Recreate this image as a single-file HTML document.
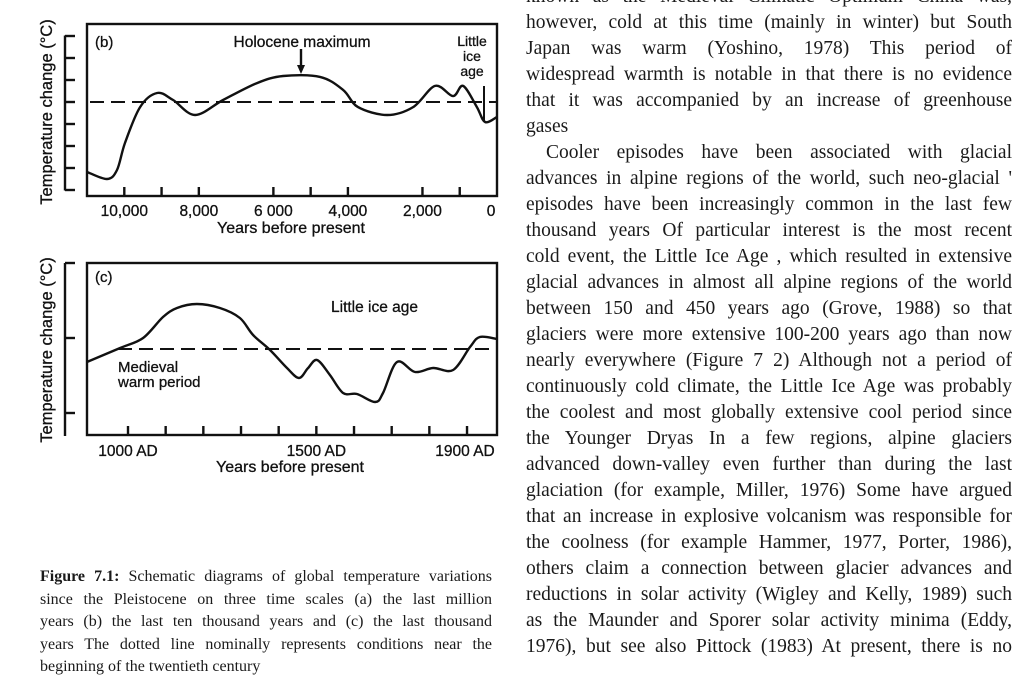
<!DOCTYPE html>
<html><head><meta charset="utf-8"><style>
html,body{margin:0;padding:0;background:#fff;width:1024px;height:699px;overflow:hidden}
#col{position:absolute;left:526px;top:-16px;width:486px;font-family:"Liberation Serif",serif;font-size:19.5px;color:#1a1a1a}
#col div{height:26px;line-height:26px;text-align:justify;text-align-last:justify;white-space:nowrap}
#col div.last{text-align-last:left}
#col div.ind{padding-left:20px}
#cap{position:absolute;left:40px;top:566px;width:452px;font-family:"Liberation Serif",serif;font-size:16px;color:#1a1a1a}
#cap div{height:22.5px;line-height:22.5px;text-align:justify;text-align-last:justify;white-space:nowrap}
#cap div.last{text-align-last:left}
svg{position:absolute;left:0;top:0}
</style></head><body>
<svg id="chart" width="520" height="490" font-family="Liberation Sans, sans-serif" fill="#111"></svg>
<div id="col">
<div>known as the Medieval Climatic Optimum  China was,</div>
<div>however, cold at this time (mainly in winter) but South</div>
<div>Japan was warm (Yoshino, 1978)  This period of</div>
<div>widespread warmth is notable in that there is no evidence</div>
<div>that it was accompanied by an increase of greenhouse</div>
<div class="last">gases</div>
<div class="ind">Cooler episodes have been associated with glacial</div>
<div>advances in alpine regions of the world, such  neo-glacial '</div>
<div>episodes have been increasingly common in the last few</div>
<div>thousand years  Of particular interest is the most recent</div>
<div>cold event, the  Little Ice Age , which resulted in extensive</div>
<div>glacial advances in almost all alpine regions of the world</div>
<div>between 150 and 450 years ago (Grove, 1988) so that</div>
<div>glaciers were more extensive 100-200 years ago than now</div>
<div>nearly everywhere (Figure 7 2)   Although not a period of</div>
<div>continuously cold climate, the Little Ice Age was probably</div>
<div>the coolest and most globally extensive cool period since</div>
<div>the Younger Dryas  In a few regions, alpine glaciers</div>
<div>advanced down-valley even further than during the last</div>
<div>glaciation (for example, Miller, 1976)   Some have argued</div>
<div>that an increase in explosive volcanism was responsible for</div>
<div>the coolness (for example Hammer, 1977, Porter, 1986),</div>
<div>others claim a connection between glacier advances and</div>
<div>reductions in solar activity (Wigley and Kelly, 1989) such</div>
<div>as the Maunder and Sporer solar activity minima (Eddy,</div>
<div>1976), but see also Pittock (1983)   At present, there is no</div>
</div>
<div id="cap">
<div><b>Figure 7.1:</b> Schematic diagrams of global temperature variations</div>
<div>since the Pleistocene on three time scales   (a)  the last million</div>
<div>years   (b)  the last ten thousand years  and  (c)  the last thousand</div>
<div>years   The dotted line nominally represents conditions near the</div>
<div class="last">beginning of the twentieth century</div>
</div>
<script>
// Panel (b): years before present vs temperature (tick units relative to dashed line)
const bYears=[11000,10465,10196,9980,9577,9121,8691,8100,7350,6440,5740,4750,4130,3730,2950,2250,1660,1180,910,540,320,0];
const bTemps=[-3.18,-3.5,-3.09,-1.86,-0.23,0.41,0.09,-0.59,0.09,0.86,1.18,1.14,0.55,-0.23,-0.59,-0.23,0.73,0.27,0.73,-0.23,-0.91,-0.68];
const bTickYears=[10000,9000,8000,6000,5000,4000,2000,1000];
const bLabelYears=[10000,8000,6000,4000,2000,0];
const bLabels=["10,000","8,000","6 000","4,000","2,000","0"];
const bYTicks=[3,2,1,0,-1,-2,-3,-4];
// Panel (c): calendar year AD vs temperature
const cYears=[891,979,1040,1093,1130,1183,1244,1297,1332,1377,1422,1454,1478,1502,1536,1571,1608,1656,1677,1714,1762,1810,1863,1908,1934,1980];
const cTemps=[-0.52,0.04,0.44,1.28,1.64,1.8,1.64,1.24,0.56,-0.04,-0.76,-1.16,-0.76,-0.44,-1.04,-1.76,-1.8,-2.12,-1.76,-0.52,-0.92,-0.76,-0.84,0.08,0.48,0.4];
const cTickYears=[1000,1100,1200,1300,1400,1500,1600,1700,1800,1900];
const cLabelYears=[1000,1500,1900];
const cLabels=["1000 AD","1500 AD","1900 AD"];
const cYTicks=[3.44,0.44,-2.56];

const xB=y=>497-y*0.03727, yB=v=>102-v*22;
const xC=y=>128+(y-1000)*0.3767, yC=v=>349-v*25;
const svg=document.getElementById('chart');
const NS='http://www.w3.org/2000/svg';
function mk(tag,attrs,name,text){const e=document.createElementNS(NS,tag);for(const k in attrs)e.setAttribute(k,attrs[k]);


if(text!==undefined)e.textContent=text;svg.appendChild(e);return e;}
function smooth(pts){let d=`M${pts[0][0]},${pts[0][1]}`;for(let i=0;i<pts.length-1;i++){const p0=pts[i-1]||pts[i],p1=pts[i],p2=pts[i+1],p3=pts[i+2]||p2;
const c1=[p1[0]+(p2[0]-p0[0])/6,p1[1]+(p2[1]-p0[1])/6],c2=[p2[0]-(p3[0]-p1[0])/6,p2[1]-(p3[1]-p1[1])/6];
d+=` C${c1[0].toFixed(1)},${c1[1].toFixed(1)} ${c2[0].toFixed(1)},${c2[1].toFixed(1)} ${p2[0].toFixed(1)},${p2[1].toFixed(1)}`;}return d;}
const ln={stroke:'#111','stroke-width':2.4,fill:'none'};
const tx={'stroke':'#111','stroke-width':0.3};

// ---- Panel b ----
mk('rect',{x:87,y:24,width:410,height:172,...ln},'panel-b-frame');
mk('line',{x1:65,y1:yB(3)-0.5,x2:65,y2:yB(-4)+0.5,...ln},'panel-b-y-axis');
bYTicks.forEach(v=>mk('line',{x1:65,y1:yB(v),x2:75,y2:yB(v),...ln},'panel-b-y-tick'));
bTickYears.forEach(y=>mk('line',{x1:xB(y),y1:196,x2:xB(y),y2:187,...ln},'panel-b-x-tick'));
bLabelYears.forEach((y,i)=>mk('text',{x:i==bLabelYears.length-1?xB(y)-6:xB(y),y:216,'font-size':15.5,'text-anchor':'middle',...tx},'panel-b-x-label',bLabels[i]));
mk('text',{x:291,y:233,'font-size':16,'text-anchor':'middle',...tx},'panel-b-x-title','Years before present');
mk('text',{x:0,y:0,'font-size':16.5,'text-anchor':'middle',transform:'translate(52,112) rotate(-90)',...tx},'panel-b-y-title','Temperature change (°C)');
mk('line',{x1:90,y1:yB(0),x2:497,y2:yB(0),...ln,'stroke-width':2,'stroke-dasharray':'14,7'},'panel-b-reference-line');
mk('path',{d:smooth(bYears.map((y,i)=>[xB(y),yB(bTemps[i])])),...ln},'panel-b-temperature-curve');
mk('text',{x:95,y:47,'font-size':15,...tx},'panel-b-label','(b)');
mk('text',{x:302,y:47,'font-size':15.5,'text-anchor':'middle',...tx},'holocene-maximum-label','Holocene maximum');
mk('line',{x1:301,y1:49,x2:301,y2:68,...ln},'holocene-arrow-shaft');
mk('path',{d:'M297,65 L305,65 L301,74 Z',fill:'#111'},'holocene-arrow-head');
mk('text',{x:472,y:46,'font-size':14,'text-anchor':'middle',...tx},'little-ice-age-label','Little');
mk('text',{x:472,y:61,'font-size':14,'text-anchor':'middle',...tx},'little-ice-age-label','ice');
mk('text',{x:472,y:76,'font-size':14,'text-anchor':'middle',...tx},'little-ice-age-label','age');
mk('line',{x1:484,y1:86,x2:484,y2:122,...ln,'stroke-width':2},'little-ice-age-marker');

// ---- Panel c ----
mk('rect',{x:87,y:263,width:410,height:172,...ln},'panel-c-frame');
mk('line',{x1:65,y1:263,x2:65,y2:436,...ln},'panel-c-y-axis');
cYTicks.forEach(v=>mk('line',{x1:65,y1:yC(v),x2:75,y2:yC(v),...ln},'panel-c-y-tick'));
cTickYears.forEach(y=>mk('line',{x1:xC(y),y1:435,x2:xC(y),y2:426,...ln},'panel-c-x-tick'));
cLabelYears.forEach((y,i)=>mk('text',{x:xC(y)+(i==2?-2:0),y:456,'font-size':15.5,'text-anchor':'middle',...tx},'panel-c-x-label',cLabels[i]));
mk('text',{x:290,y:472,'font-size':16,'text-anchor':'middle',...tx},'panel-c-x-title','Years before present');
mk('text',{x:0,y:0,'font-size':16.5,'text-anchor':'middle',transform:'translate(52,350) rotate(-90)',...tx},'panel-c-y-title','Temperature change (°C)');
mk('line',{x1:118,y1:yC(0),x2:497,y2:yC(0),...ln,'stroke-width':2,'stroke-dasharray':'14,7'},'panel-c-reference-line');
mk('path',{d:smooth(cYears.map((y,i)=>[xC(y),yC(cTemps[i])])),...ln},'panel-c-temperature-curve');
mk('text',{x:95,y:282,'font-size':15,...tx},'panel-c-label','(c)');
mk('text',{x:331,y:312,'font-size':15.5,...tx},'little-ice-age-label','Little ice age');
mk('text',{x:118,y:372,'font-size':15,...tx},'medieval-warm-label','Medieval');
mk('text',{x:118,y:387,'font-size':15,...tx},'medieval-warm-label','warm period');
</script>
</body></html>
